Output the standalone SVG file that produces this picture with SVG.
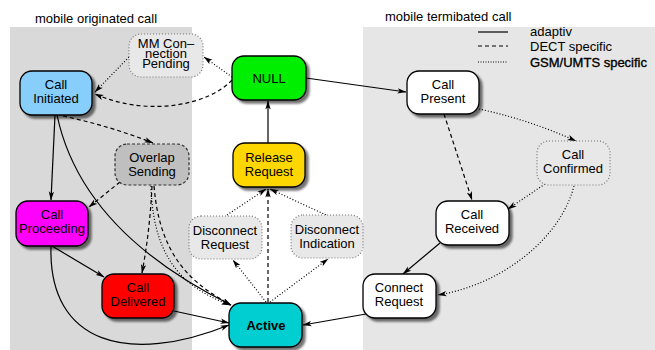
<svg xmlns="http://www.w3.org/2000/svg" width="655" height="350" viewBox="0 0 655 350">
<defs>
<style>
text{font-family:"Liberation Sans",Arial,sans-serif;font-size:13px;fill:#000}
.t{text-anchor:middle}
.n{stroke:#000;stroke-width:1.3}
.dot{fill:#e8e8e8;stroke:#777;stroke-width:1.2;stroke-dasharray:1,2}
.e{fill:none;stroke:#000;stroke-width:1.2}
.sol{marker-end:url(#ah)}
.da{stroke-dasharray:4,3;marker-end:url(#ah)}
.dt{stroke-dasharray:1,2;marker-end:url(#ah)}
</style>
<marker id="ah" viewBox="0 0 10 6" refX="9.5" refY="3" markerWidth="9" markerHeight="6" markerUnits="userSpaceOnUse" orient="auto">
<path d="M0,0 L10,3 L0,6 L2.5,3 z" fill="#000"/>
</marker>
<filter id="sh" x="-20%" y="-20%" width="150%" height="150%">
<feDropShadow dx="3" dy="3" stdDeviation="1" flood-color="#000" flood-opacity="0.55"/>
</filter>
</defs>
<rect x="0" y="0" width="655" height="350" fill="#fff"/>
<rect x="10" y="27" width="182" height="323" fill="#d9d9d9"/>
<rect x="363" y="27" width="292" height="323" fill="#e6e6e6"/>
<text x="35" y="23">mobile originated call</text>
<text x="385" y="21">mobile termibated call</text>
<g id="legend">
<line x1="478" y1="32" x2="508" y2="32" stroke="#000" stroke-width="1.2"/>
<line x1="478" y1="46" x2="508" y2="46" stroke="#000" stroke-width="1.2" stroke-dasharray="4,3"/>
<line x1="478" y1="62" x2="508" y2="62" stroke="#000" stroke-width="1.2" stroke-dasharray="1,1.5"/>
<text x="530" y="36">adaptiv</text>
<text x="530" y="51">DECT specific</text>
<text x="530" y="67" stroke="#000" stroke-width="0.35">GSM/UMTS specific</text>
</g>
<g id="connectors">
<path class="e da" d="M232,80 C210,104 150,118 95,94"/>
<path class="e dt" d="M232,77 L204,57"/>
<path class="e dt" d="M129,57 L95,92"/>
<path class="e da" d="M63,116 Q110,126 153,143"/>
<path class="e sol" d="M55,115 L51,200"/>
<path class="e sol" d="M57,115 C75,200 140,260 231,305"/>
<path class="e da" d="M120,182 L89,207"/>
<path class="e da" d="M152,186 Q150,230 142,273"/>
<path class="e da" d="M154,186 C160,260 195,285 231,305"/>
<path class="e dt" d="M151,186 C153,265 190,290 230,305"/>
<path class="e sol" d="M52,246 L104,277"/>
<path class="e sol" d="M51,246 C48,345 130,365 229,325"/>
<path class="e sol" d="M174,311 L229,323"/>
<path class="e dt" d="M266,302 L233,260"/>
<path class="e dt" d="M270,302 L328,259"/>
<path class="e da" d="M268,302 L268,189"/>
<path class="e dt" d="M227,215 L266,189"/>
<path class="e dt" d="M326,215 L270,189"/>
<path class="e sol" d="M268,143 L268,101"/>
<path class="e sol" d="M306,78 L406,92"/>
<path class="e dt" d="M479,109 Q530,120 576,141"/>
<path class="e da" d="M444,114 L472,200"/>
<path class="e dt" d="M545,184 L508,209"/>
<path class="e dt" d="M574,186 C560,240 500,285 438,295"/>
<path class="e sol" d="M440,243 L403,274"/>
<path class="e sol" d="M366,314 L303,325"/>
</g>
<g id="mm">
<rect class="dot" x="129" y="34" width="74" height="43" rx="12"/>
<text class="t" x="166" y="48">MM Con–</text>
<text class="t" x="166" y="58">nection</text>
<text class="t" x="166" y="68">Pending</text>
</g>
<g id="callInitiated">
<rect class="n" x="20" y="71" width="72" height="44" rx="12" fill="#87cefa" filter="url(#sh)"/>
<text class="t" x="56" y="89">Call</text>
<text class="t" x="56" y="103">Initiated</text>
</g>
<g id="null">
<rect class="n" x="232" y="56" width="74" height="44" rx="12" fill="#00ee00" filter="url(#sh)"/>
<text class="t" x="269" y="83">NULL</text>
</g>
<g id="callPresent">
<rect class="n" x="407" y="71" width="72" height="43" rx="12" fill="#fff" filter="url(#sh)"/>
<text class="t" x="443" y="89">Call</text>
<text class="t" x="443" y="103">Present</text>
</g>
<g id="overlap">
<rect x="115" y="144" width="74" height="41" rx="12" fill="#bfbfbf" stroke="#333" stroke-width="1.2" stroke-dasharray="3,2"/>
<text class="t" x="152" y="162">Overlap</text>
<text class="t" x="152" y="176">Sending</text>
</g>
<g id="releaseRequest">
<rect class="n" x="233" y="143" width="72" height="44" rx="12" fill="#ffd700" filter="url(#sh)"/>
<text class="t" x="269" y="162">Release</text>
<text class="t" x="269" y="176">Request</text>
</g>
<g id="callConfirmed">
<rect class="dot" x="537" y="141" width="73" height="44" rx="12"/>
<text class="t" x="573" y="159">Call</text>
<text class="t" x="573" y="173">Confirmed</text>
</g>
<g id="callProceeding">
<rect class="n" x="16" y="201" width="72" height="45" rx="12" fill="#ff00ff" filter="url(#sh)"/>
<text class="t" x="52" y="219">Call</text>
<text class="t" x="52" y="233">Proceeding</text>
</g>
<g id="disconnectRequest">
<rect class="dot" x="189" y="216" width="73" height="43" rx="12"/>
<text class="t" x="225" y="235">Disconnect</text>
<text class="t" x="225" y="249">Request</text>
</g>
<g id="disconnectIndication">
<rect class="dot" x="291" y="215" width="72" height="43" rx="12"/>
<text class="t" x="327" y="234">Disconnect</text>
<text class="t" x="327" y="248">Indication</text>
</g>
<g id="callReceived">
<rect class="n" x="436" y="201" width="73" height="44" rx="12" fill="#fff" filter="url(#sh)"/>
<text class="t" x="472" y="219">Call</text>
<text class="t" x="472" y="233">Received</text>
</g>
<g id="callDelivered">
<rect class="n" x="102" y="274" width="72" height="44" rx="12" fill="#ff0000" filter="url(#sh)"/>
<text class="t" x="138" y="292">Call</text>
<text class="t" x="138" y="306">Delivered</text>
</g>
<g id="connectRequest">
<rect class="n" x="363" y="274" width="73" height="44" rx="12" fill="#fff" filter="url(#sh)"/>
<text class="t" x="399" y="292">Connect</text>
<text class="t" x="399" y="306">Request</text>
</g>
<g id="active">
<rect class="n" x="229" y="303" width="73" height="44" rx="12" fill="#00ced1" filter="url(#sh)"/>
<text class="t" x="266" y="330" font-weight="bold" font-size="12">Active</text>
</g>
</svg>
